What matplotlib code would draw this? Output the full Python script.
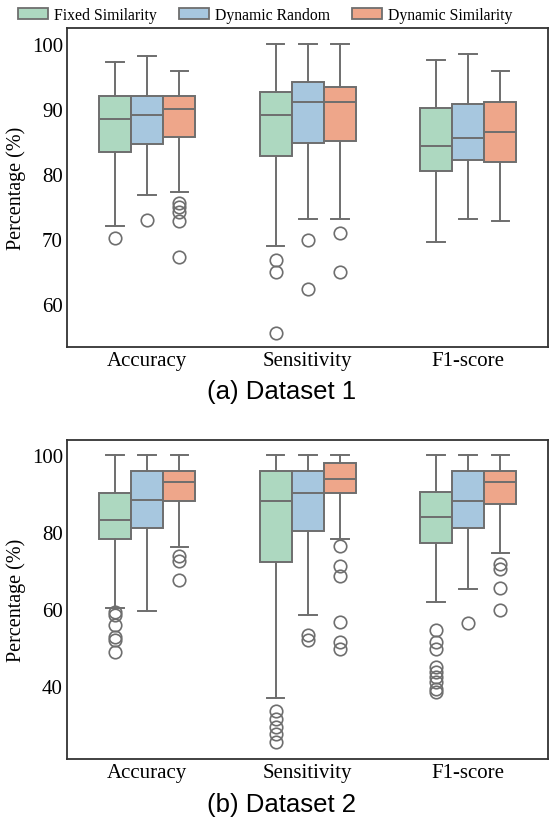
import matplotlib
matplotlib.use("Agg")
import matplotlib.pyplot as plt
from matplotlib.patches import Patch

categories = ["Accuracy", "Sensitivity", "F1-score"]
methods = ["Fixed Similarity", "Dynamic Random", "Dynamic Similarity"]
colors = ["#add8c0", "#a7c7df", "#eea68a"]

# Dataset 1: (whislo, q1, med, q3, whishi, fliers) per category, per method
d1_fixed = [
    (72.0, 83.4, 88.5, 92.0, 97.2, [70.2]),
    (68.9, 82.8, 89.1, 92.6, 100.0, [66.8, 65.0, 55.5]),
    (69.6, 80.4, 84.3, 90.1, 97.5, []),
]
d1_random = [
    (76.8, 84.6, 89.1, 92.0, 98.1, [72.9]),
    (73.1, 84.8, 91.1, 94.1, 100.0, [69.8, 62.3]),
    (73.1, 82.2, 85.5, 90.8, 98.4, []),
]
d1_simil = [
    (77.2, 85.7, 90.0, 92.0, 95.8, [75.6, 74.9, 74.1, 72.8, 67.3]),
    (73.1, 85.0, 91.1, 93.4, 100.0, [71.0, 65.0]),
    (72.7, 81.8, 86.4, 91.0, 95.8, []),
]

# Dataset 2
d2_fixed = [
    (60.3, 78.3, 83.2, 90.1, 100.0, [59.3, 58.3, 55.7, 52.6, 51.8, 48.9]),
    (36.8, 72.3, 88.1, 95.9, 100.0, [33.6, 31.4, 29.4, 27.5, 25.4]),
    (61.7, 77.1, 84.0, 90.3, 100.0, [54.5, 51.3, 49.6, 44.9, 43.6, 42.3, 41.0, 39.2, 38.4]),
]
d2_random = [
    (59.4, 81.1, 88.2, 95.9, 100.0, []),
    (58.5, 80.3, 90.1, 95.9, 100.0, [53.3, 51.9]),
    (65.3, 81.0, 88.1, 95.8, 100.0, [56.4]),
]
d2_simil = [
    (76.2, 88.1, 93.1, 95.9, 100.0, [73.8, 72.5, 67.4]),
    (78.3, 90.1, 93.9, 98.0, 100.0, [76.3, 71.2, 68.6, 56.5, 51.3, 49.6]),
    (74.6, 87.4, 93.0, 95.9, 100.0, [71.7, 70.4, 65.4, 59.6]),
]

d1_yticks = [60, 70, 80, 90, 100]
d2_yticks = [40, 60, 80, 100]

serif = ["Liberation Serif", "DejaVu Serif"]
sans = ["Liberation Sans", "DejaVu Sans"]
edge = "#6e6e6e"

fig = plt.figure(figsize=(5.57, 8.2), dpi=100)
ax1 = fig.add_axes([0.1203, 0.5756, 0.8644, 0.3887])
ax2 = fig.add_axes([0.1203, 0.0732, 0.8644, 0.3894])


def draw(ax, series, ylim, yticks):
    width = 0.2
    offsets = [-width, 0.0, width]
    for s, (data, col, off) in enumerate(zip(series, colors, offsets)):
        stats = []
        for (lo, q1, med, q3, hi, fl) in data:
            stats.append(dict(whislo=lo, q1=q1, med=med, q3=q3, whishi=hi, fliers=fl))
        pos = [i + off for i in range(len(categories))]
        ax.bxp(stats, positions=pos, widths=width, patch_artist=True,
               showfliers=True, capwidths=0.11,
               boxprops=dict(facecolor=col, edgecolor=edge, linewidth=1.4),
               medianprops=dict(color=edge, linewidth=1.4),
               whiskerprops=dict(color=edge, linewidth=1.4),
               capprops=dict(color=edge, linewidth=1.4),
               flierprops=dict(marker="o", markersize=9, markerfacecolor="none",
                               markeredgecolor=edge, markeredgewidth=1.2))
    ax.set_xlim(-0.5, 2.5)
    ax.set_ylim(*ylim)
    ax.set_xticks(range(len(categories)))
    ax.set_xticklabels(categories, fontfamily=serif, fontsize=15)
    ax.set_yticks(yticks)
    ax.set_yticklabels([str(t) for t in yticks], fontfamily=serif, fontsize=15)
    ax.tick_params(length=0, pad=3)
    ax.set_ylabel("Percentage (%)", fontfamily=serif, fontsize=14.5, labelpad=4)
    for sp in ax.spines.values():
        sp.set_color("#333333")
        sp.set_linewidth(1.3)


draw(ax1, [d1_fixed, d1_random, d1_simil], (53.4, 102.4), d1_yticks)
draw(ax2, [d2_fixed, d2_random, d2_simil], (21.0, 104.0), d2_yticks)

fig.text(0.505, 0.522, "(a) Dataset 1", ha="center", va="center", fontfamily=sans, fontsize=18.5)
fig.text(0.505, 0.018, "(b) Dataset 2", ha="center", va="center", fontfamily=sans, fontsize=18.5)

handles = [Patch(facecolor=c, edgecolor=edge, linewidth=1.3) for c in colors]
fig.legend(handles, methods, loc="upper center", bbox_to_anchor=(0.476, 1.008), ncol=3,
           frameon=False, prop=dict(family=serif, size=11.3), handlelength=1.9,
           handleheight=0.7, handletextpad=0.4, columnspacing=1.4)

fig.savefig("out.png", dpi=100)
